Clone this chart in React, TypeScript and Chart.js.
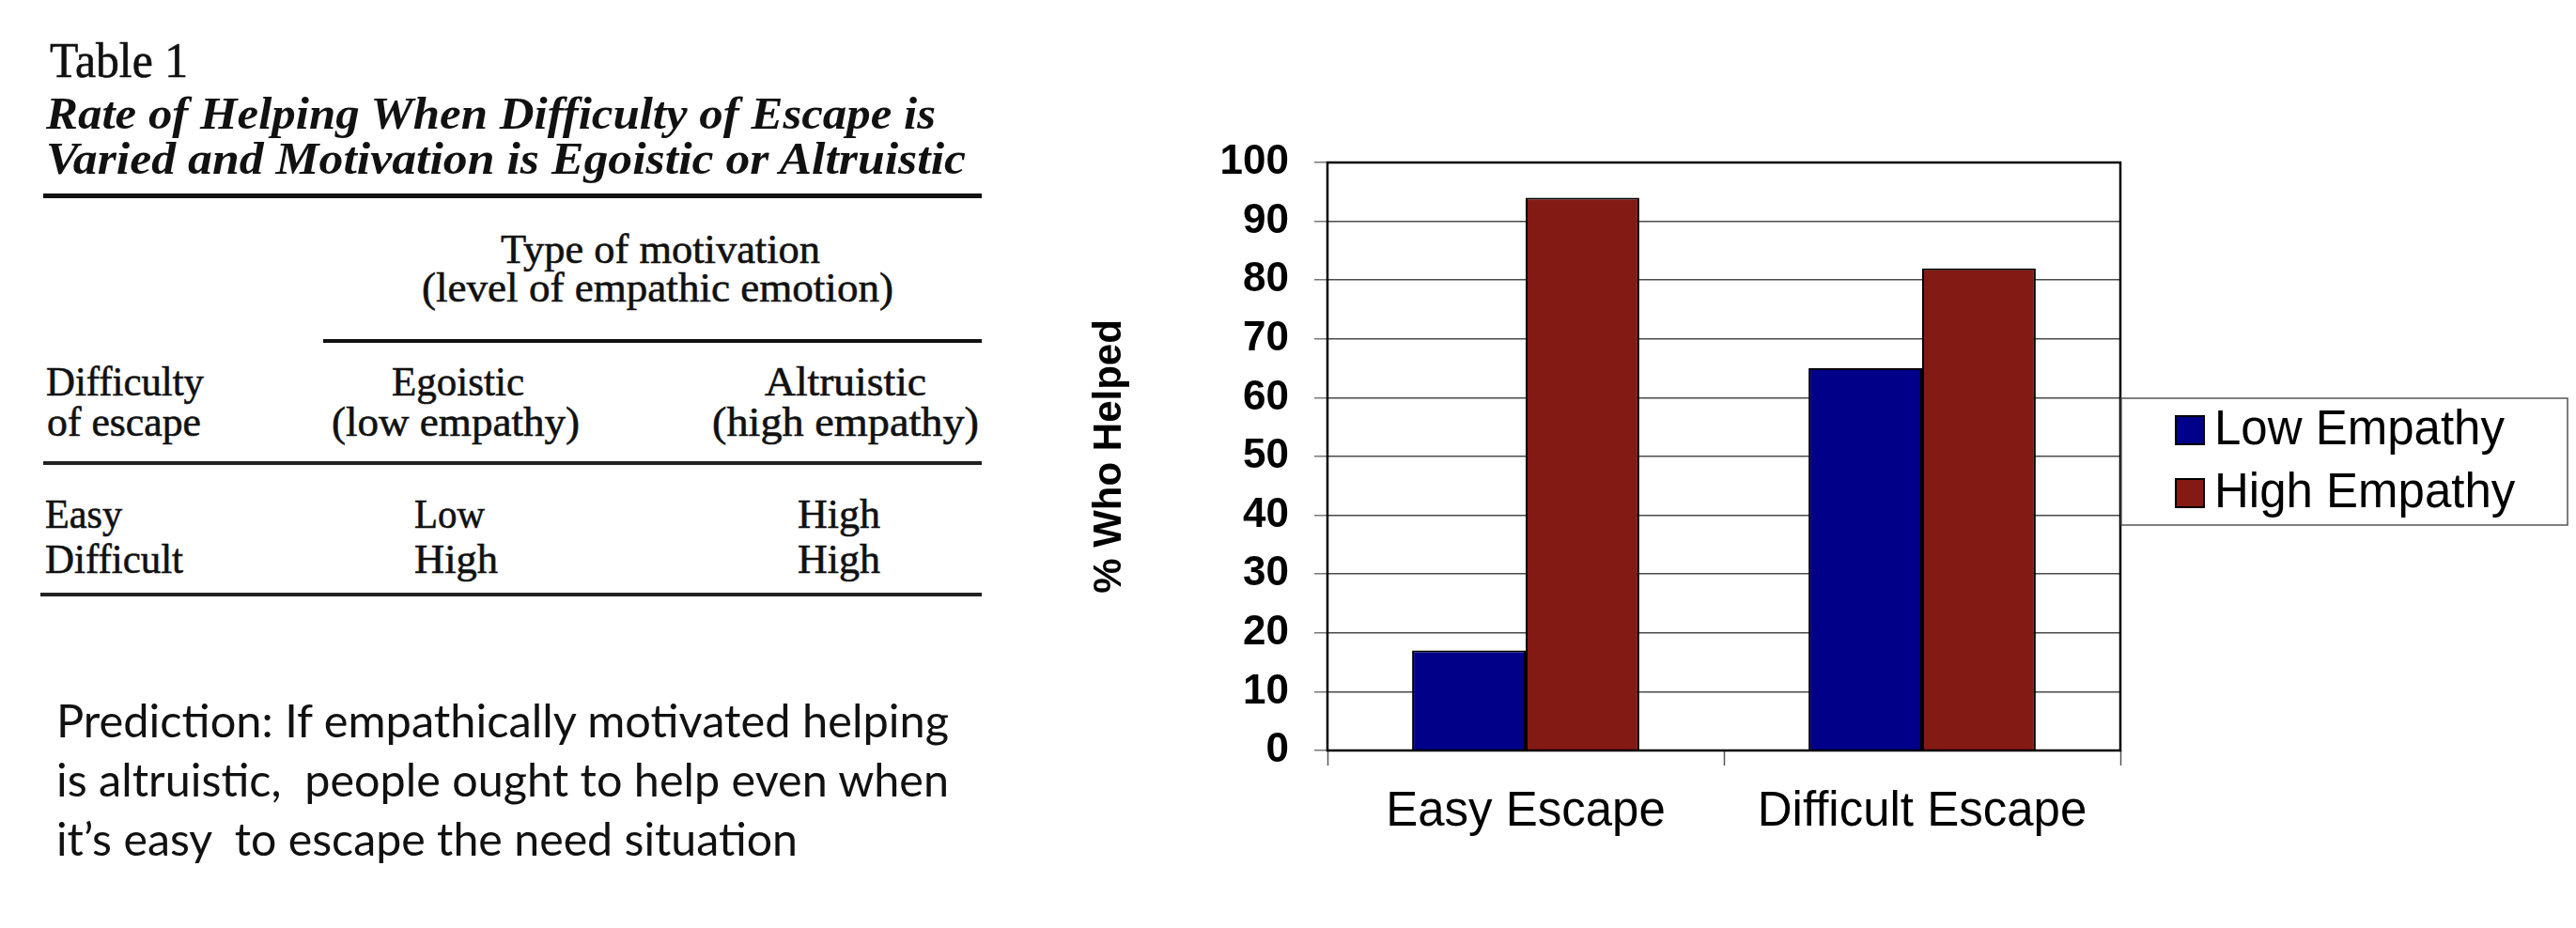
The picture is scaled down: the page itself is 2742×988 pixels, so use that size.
import React, { useEffect, useRef } from 'react';
import { Chart, registerables } from 'chart.js';

Chart.register(...registerables);

// ---------- chart data ----------
const categories = ['Easy Escape', 'Difficult Escape'];
const seriesNames = ['Low Empathy', 'High Empathy'];
const lowEmpathy = [17, 65];
const highEmpathy = [94, 82];
const seriesColors = ['#000088', '#841a14'];
const yAxisTitle = '% Who Helped';
const yMin = 0;
const yMax = 100;
const yStep = 10;

// ---------- table / note text ----------
const tableLabel = 'Table 1';
const tableCaption = [
  'Rate of Helping When Difficulty of Escape is',
  'Varied and Motivation is Egoistic or Altruistic',
];
const spannerHead = ['Type of motivation', '(level of empathic emotion)'];
const rowHead = ['Difficulty', 'of escape'];
const colHeads = [
  ['Egoistic', '(low empathy)'],
  ['Altruistic', '(high empathy)'],
];
const rowNames = ['Easy', 'Difficult'];
const egoisticCells = ['Low', 'High'];
const altruisticCells = ['High', 'High'];
const predictionLines = [
  'Prediction: If empathically motivated helping',
  'is altruistic,  people ought to help even when',
  'it\u2019s easy  to escape the need situation',
];

const SANS = "'Liberation Sans', Arial, sans-serif";
const SERIF = "'Liberation Serif', 'Times New Roman', serif";
const NOTE = "Lato, 'Open Sans', sans-serif";

const framePlugin = {
  id: 'frame',
  afterDatasetsDraw(chart: any) {
    const { ctx, chartArea: a } = chart;
    ctx.save();
    ctx.strokeStyle = '#000';
    ctx.lineWidth = 2.5;
    ctx.strokeRect(a.left, a.top, a.right - a.left, a.bottom - a.top);
    ctx.restore();
  },
};

const boxLegendPlugin = {
  id: 'boxLegend',
  afterDraw(chart: any) {
    const { ctx, chartArea: a } = chart;
    const boxW = 475;
    const boxH = 135;
    const left = a.right + 1;
    const top = (a.top + a.bottom) / 2 + 5.5 - boxH / 2;
    ctx.save();
    ctx.fillStyle = '#fff';
    ctx.fillRect(left, top, boxW, boxH);
    ctx.strokeStyle = '#555';
    ctx.lineWidth = 1.5;
    ctx.strokeRect(left, top, boxW, boxH);
    chart.data.datasets.forEach((ds: any, i: number) => {
      const cy = top + 34 + i * 67;
      ctx.fillStyle = ds.backgroundColor;
      ctx.fillRect(left + 58, cy - 15, 30, 30);
      ctx.strokeStyle = '#000';
      ctx.lineWidth = 2;
      ctx.strokeRect(left + 58, cy - 15, 30, 30);
      ctx.fillStyle = '#000';
      ctx.font = `51px ${SANS}`;
      ctx.textAlign = 'left';
      ctx.textBaseline = 'middle';
      ctx.fillText(ds.label, left + 99, cy + 1);
    });
    ctx.restore();
  },
};

function T(props: any) {
  const { x, y, len, size, italic, bold, family, stroke, children } = props;
  const isSerif = !family;
  return (
    <text
      x={x}
      y={y}
      fontSize={size}
      fontFamily={family || SERIF}
      fontStyle={italic ? 'italic' : 'normal'}
      fontWeight={bold ? 'bold' : 'normal'}
      textLength={len}
      lengthAdjust="spacingAndGlyphs"
      fill="#111"
      stroke={isSerif && stroke !== false ? '#111' : 'none'}
      strokeWidth={isSerif && stroke !== false ? 0.6 : 0}
      style={{ whiteSpace: 'pre' }}
    >
      {children}
    </text>
  );
}

export default function App() {
  const canvasRef = useRef<HTMLCanvasElement>(null);

  useEffect(() => {
    const chart = new Chart(canvasRef.current as HTMLCanvasElement, {
      type: 'bar',
      data: {
        labels: categories,
        datasets: [
          {
            label: seriesNames[0],
            data: lowEmpathy,
            backgroundColor: seriesColors[0],
            borderColor: '#000',
            borderWidth: 2,
            categoryPercentage: 0.573,
            barPercentage: 1,
          },
          {
            label: seriesNames[1],
            data: highEmpathy,
            backgroundColor: seriesColors[1],
            borderColor: '#000',
            borderWidth: 2,
            categoryPercentage: 0.573,
            barPercentage: 1,
          },
        ],
      },
      options: {
        responsive: false,
        animation: false,
        layout: { padding: { left: 0, top: 173, right: 485, bottom: 0 } },
        plugins: {
          legend: { display: false },
          tooltip: { enabled: false },
          title: { display: false },
        },
        scales: {
          x: {
            grid: {
              display: true,
              drawOnChartArea: false,
              drawTicks: true,
              tickLength: 16,
              tickColor: '#555',
              tickWidth: 1.5,
              offset: true,
            },
            border: { display: false },
            ticks: {
              color: '#000',
              font: { size: 51, family: SANS },
              padding: 19,
              maxRotation: 0,
            },
            afterFit: (s: any) => {
              s.height = 189;
            },
          },
          y: {
            min: yMin,
            max: yMax,
            ticks: {
              stepSize: yStep,
              color: '#000',
              font: { size: 44, weight: 'bold', family: SANS },
              padding: 27,
            },
            grid: {
              color: '#4a4a4a',
              lineWidth: 1.5,
              tickLength: 14,
              tickColor: '#777',
              tickWidth: 1.5,
            },
            border: { display: false },
            title: {
              display: true,
              text: yAxisTitle,
              color: '#000',
              font: { size: 42, weight: 'bold', family: SANS },
              padding: { top: 56, bottom: 0 },
            },
            afterFit: (s: any) => {
              s.width = 313;
            },
          },
        },
      } as any,
      plugins: [framePlugin, boxLegendPlugin],
    });
    return () => chart.destroy();
  }, []);

  return (
    <div
      style={{
        position: 'absolute',
        left: 0,
        top: 0,
        width: 2742,
        height: 988,
        background: '#fff',
        overflow: 'hidden',
      }}
    >
      <svg
        width={1100}
        height={988}
        style={{ position: 'absolute', left: 0, top: 0 }}
      >
        <T x={53} y={82} size={52} len={147}>{tableLabel}</T>
        <T x={49} y={137} size={48} len={947} italic bold stroke={false}>{tableCaption[0]}</T>
        <T x={49} y={185} size={48} len={979} italic bold stroke={false}>{tableCaption[1]}</T>
        <rect x={46} y={206} width={999} height={5} fill="#111" />

        <T x={533} y={280} size={44} len={340}>{spannerHead[0]}</T>
        <T x={449} y={321} size={44} len={502}>{spannerHead[1]}</T>
        <rect x={344} y={361} width={701} height={4} fill="#111" />

        <T x={49} y={421} size={44} len={168}>{rowHead[0]}</T>
        <T x={50} y={464} size={44} len={164}>{rowHead[1]}</T>
        <T x={417} y={421} size={44} len={141}>{colHeads[0][0]}</T>
        <T x={353} y={464} size={44} len={264}>{colHeads[0][1]}</T>
        <T x={814} y={421} size={44} len={172}>{colHeads[1][0]}</T>
        <T x={758} y={464} size={44} len={284}>{colHeads[1][1]}</T>
        <rect x={46} y={491} width={999} height={4} fill="#222" />

        <T x={48} y={562} size={44} len={82}>{rowNames[0]}</T>
        <T x={48} y={610} size={44} len={147}>{rowNames[1]}</T>
        <T x={441} y={562} size={44} len={75}>{egoisticCells[0]}</T>
        <T x={441} y={610} size={44} len={89}>{egoisticCells[1]}</T>
        <T x={849} y={562} size={44} len={88}>{altruisticCells[0]}</T>
        <T x={849} y={610} size={44} len={88}>{altruisticCells[1]}</T>
        <rect x={43} y={631} width={1002} height={4} fill="#222" />

        <T x={60} y={785} size={49} len={950} family={NOTE}>{predictionLines[0]}</T>
        <T x={60} y={848} size={49} len={950} family={NOTE}>{predictionLines[1]}</T>
        <T x={60} y={911} size={49} len={789} family={NOTE}>{predictionLines[2]}</T>
      </svg>
      <canvas
        ref={canvasRef}
        width={1642}
        height={988}
        style={{ position: 'absolute', left: 1100, top: 0, width: 1642, height: 988 }}
      />
    </div>
  );
}
